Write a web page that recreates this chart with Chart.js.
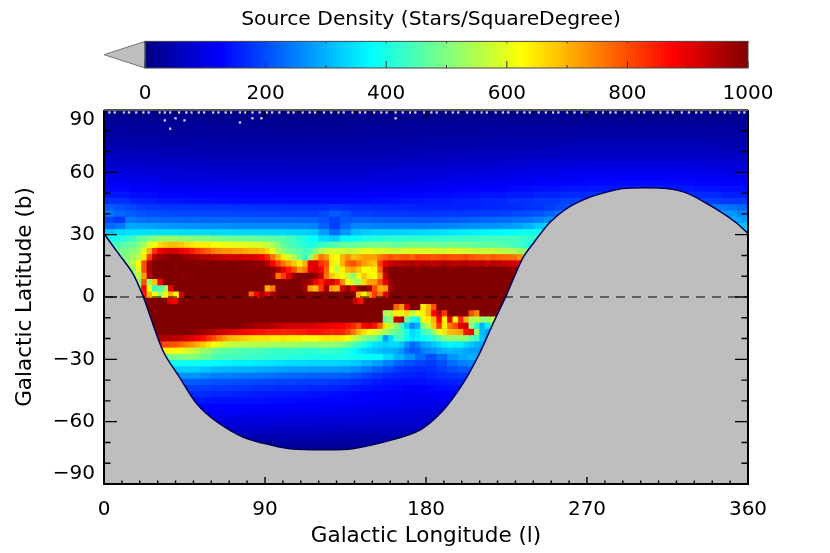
<!DOCTYPE html>
<html>
<head>
<meta charset="utf-8">
<script src="https://cdn.jsdelivr.net/npm/chart.js@4"></script>
<style>
html, body { margin: 0; padding: 0; background: #fff; overflow: hidden; }
#wrap { position: relative; width: 830px; height: 553px; }
canvas { position: absolute; top: 0; }
#sky { left: 0; }
#bar { left: 32px; }
</style>
</head>
<body>
<div id="wrap">
<canvas id="sky" width="830" height="553"></canvas>
<canvas id="bar" width="798" height="110"></canvas>
</div>
<script>
// density rows, top to bottom, 3 degrees of latitude each
// b = 88.5 ... 46.5, 15 deg of longitude per value
var northRows = [
[14,13,12,12,12,11,11,10,11,12,12,12,13,13,14,14,14,15,15,15,15,15,15,14],
[20,19,18,18,17,16,16,15,16,17,17,18,18,19,20,20,20,21,21,21,22,22,21,20],
[26,25,24,24,22,22,21,21,21,22,23,24,24,25,26,26,27,28,28,28,28,28,28,27],
[32,31,30,29,28,28,27,26,27,28,29,30,30,31,32,33,34,35,35,36,36,36,35,34],
[39,38,36,35,34,34,33,32,33,34,35,36,37,38,39,40,42,43,44,44,44,44,43,41],
[47,45,43,42,41,40,39,38,39,40,42,43,44,45,46,48,50,52,53,53,54,53,52,49],
[55,53,51,49,48,47,46,45,46,47,49,50,52,53,55,57,60,62,63,64,64,63,62,58],
[65,62,59,57,56,55,54,53,54,55,57,59,61,62,65,68,71,74,75,76,76,75,73,69],
[76,72,69,67,65,64,63,62,63,64,66,69,71,73,76,79,83,86,88,89,89,88,85,81],
[88,83,79,77,75,74,73,71,72,74,76,79,82,84,88,92,96,100,102,103,103,102,99,94],
[101,95,90,87,85,84,83,81,82,84,87,90,93,96,100,105,110,114,116,118,118,116,113,107],
[114,107,101,98,96,95,94,92,93,95,98,101,105,108,113,119,124,129,131,133,133,131,127,121],
[128,120,114,110,108,106,105,104,105,107,110,114,118,122,127,134,140,145,148,150,150,148,143,136],
[146,136,128,124,122,120,118,116,118,120,124,128,132,137,143,150,158,165,170,172,172,170,165,155],
[170,155,145,140,137,135,134,132,133,135,139,143,148,154,162,172,180,190,195,198,198,195,188,178]
];
// b = 43.5 ... 28.5, 6 deg of longitude per value
var midNorthRows = [
[215,205,195,185,180,178,176,175,175,175,175,174,172,172,170,170,170,168,168,166,168,175,170,165,165,162,160,160,158,155,155,155,155,155,158,160,160,165,168,170,175,185,195,205,210,215,220,225,230,230,235,235,240,240,240,245,245,240,235,225],
[245,225,215,205,200,198,196,195,195,195,195,194,192,192,190,190,190,188,188,186,195,215,200,185,185,182,180,180,178,175,175,178,180,180,182,185,185,190,195,200,205,220,235,245,250,255,260,265,270,270,275,275,280,280,280,285,285,280,270,255],
[190,180,245,235,230,228,226,225,225,225,225,224,222,222,220,220,220,218,218,216,205,190,210,215,215,212,210,210,208,205,205,208,210,215,220,222,225,228,235,240,250,265,280,290,295,300,305,310,310,310,315,315,320,320,320,325,320,315,300,280],
[225,240,290,285,280,275,272,270,268,265,265,265,262,262,260,260,260,258,258,256,220,185,225,255,255,252,250,250,250,248,250,252,255,260,265,268,270,275,285,300,320,340,350,360,365,370,370,370,370,370,370,370,370,370,370,370,370,360,345,320],
[320,340,345,345,345,345,345,340,340,340,338,338,336,335,335,335,335,332,330,325,280,230,270,315,325,330,330,330,335,338,340,345,350,355,360,365,370,375,380,390,390,390,390,390,390,390,390,390,390,390,390,390,390,390,390,390,390,390,380,350],
[380,400,430,470,500,520,520,510,505,500,490,480,478,475,470,465,460,440,410,380,340,330,370,385,400,410,415,420,420,420,420,425,430,430,435,440,440,440,440,425,420,420,420,420,420,420,420,420,420,420,420,420,420,420,420,420,420,420,420,420]
];
// b = 25.5 ... -25.5, 3 deg of longitude per value, l = 0 ... 240
var bandRows = [
[430,440,450,460,470,480,500,540,590,620,660,680,690,690,680,660,650,640,640,640,620,620,610,610,600,600,600,590,590,580,570,540,500,470,450,440,430,410,400,420,430,440,450,460,470,470,470,480,480,490,490,490,490,480,480,480,490,490,490,490,490,490,480,480,490,490,480,480,480,470,470,470,470,460,460,450,440,430,420,400],
[430,450,470,490,500,510,530,600,700,830,890,910,920,910,890,870,850,820,800,780,750,740,730,730,720,720,710,700,700,690,660,600,540,510,480,470,460,440,450,500,540,570,580,570,580,560,570,580,600,600,590,590,590,580,570,580,590,590,590,590,590,590,580,580,590,590,580,580,570,570,570,570,570,560,560,550,540,530,510,480],
[430,450,470,490,510,530,560,640,820,950,980,990,1000,1000,990,980,970,960,950,950,940,930,930,920,920,920,910,910,900,880,840,760,700,640,590,540,490,430,520,680,760,720,640,620,700,740,690,700,720,720,720,760,780,800,780,790,800,780,810,800,800,790,800,810,800,790,800,810,790,780,780,770,790,780,770,770,760,740,700,620],
[430,450,470,490,520,560,620,800,960,1000,1000,1000,1000,1000,1000,1000,1000,990,990,1000,1000,1000,990,1000,1000,990,1000,1000,990,980,960,880,820,760,720,680,640,700,900,900,830,800,640,600,700,780,800,760,720,700,680,820,900,930,950,940,950,960,940,950,950,940,950,960,950,940,950,960,940,940,950,930,950,940,930,930,920,900,850,760],
[430,450,470,490,500,520,600,800,960,1000,1000,1000,1000,990,1000,1000,1000,1000,1000,1000,1000,1000,1000,1000,1000,1000,1000,990,1000,1000,1000,990,950,900,850,800,720,760,900,920,880,780,620,560,640,700,720,680,620,620,640,780,960,1000,1000,990,1000,1000,980,1000,1000,1000,1000,1000,990,1000,1000,1000,1000,1000,1000,1000,1000,1000,1000,990,980,970,930,860],
[400,420,440,460,480,500,560,720,950,1000,1000,1000,1000,1000,990,1000,1000,1000,1000,1000,1000,1000,1000,1000,1000,1000,1000,1000,1000,1000,1000,980,760,820,900,980,1000,1000,1000,980,920,760,680,640,620,560,520,600,680,640,620,720,930,1000,1000,1000,1000,1000,1000,1000,1000,1000,1000,1000,1000,1000,1000,1000,1000,1000,1000,1000,1000,1000,1000,1000,1000,1000,1000,980],
[400,420,440,460,480,500,520,800,520,680,880,1000,1000,1000,1000,1000,1000,1000,1000,1000,1000,1000,1000,1000,1000,1000,1000,1000,1000,1000,1000,1000,1000,990,1000,1000,1000,980,960,880,840,900,920,860,740,620,560,540,660,720,720,800,900,980,1000,1000,1000,1000,1000,1000,1000,1000,1000,1000,1000,1000,1000,1000,1000,1000,1000,1000,1000,1000,1000,1000,1000,1000,1000,1000],
[400,420,440,460,480,500,520,880,620,430,460,520,900,1000,1000,1000,1000,1000,1000,1000,1000,1000,1000,1000,1000,1000,1000,1000,1000,990,700,760,1000,1000,1000,1000,1000,960,720,680,820,960,720,700,920,980,900,980,1000,960,800,700,720,960,1000,1000,1000,1000,1000,1000,1000,1000,1000,1000,1000,1000,1000,1000,1000,1000,1000,1000,1000,1000,1000,1000,1000,1000,1000,1000],
[400,420,440,460,480,500,520,860,700,620,520,640,700,620,920,1000,1000,1000,1000,1000,1000,1000,1000,1000,1000,1000,1000,780,880,960,900,960,1000,1000,1000,1000,1000,1000,990,1000,1000,1000,1000,1000,1000,1000,1000,700,640,720,820,760,900,1000,1000,1000,1000,1000,1000,1000,1000,1000,1000,1000,1000,1000,1000,1000,1000,1000,1000,1000,1000,1000,1000,1000,1000,1000,1000,1000],
[400,420,440,460,480,500,520,950,1000,1000,1000,1000,900,880,1000,1000,1000,1000,1000,1000,1000,1000,1000,1000,1000,1000,1000,1000,1000,1000,1000,1000,1000,1000,1000,1000,1000,1000,1000,1000,1000,1000,1000,1000,1000,1000,1000,920,860,1000,1000,1000,1000,1000,1000,1000,1000,1000,1000,1000,1000,1000,1000,1000,1000,1000,1000,1000,1000,1000,1000,1000,1000,1000,1000,1000,1000,1000,1000,1000,1000],
[900,900,900,900,900,900,900,950,1000,1000,1000,1000,1000,1000,1000,1000,1000,1000,1000,1000,1000,1000,1000,1000,1000,1000,1000,1000,1000,1000,1000,1000,1000,1000,1000,1000,1000,1000,1000,1000,1000,1000,1000,1000,1000,1000,1000,1000,1000,1000,1000,1000,1000,1000,780,720,900,1000,1000,640,700,800,1000,1000,1000,1000,1000,1000,1000,1000,1000,1000,1000,1000,1000,1000,1000,1000,1000,1000],
[900,900,900,900,900,900,900,950,1000,1000,1000,1000,1000,1000,1000,1000,1000,1000,1000,1000,1000,1000,1000,1000,1000,1000,1000,1000,1000,1000,1000,1000,1000,1000,1000,1000,1000,1000,1000,1000,1000,1000,1000,1000,1000,1000,1000,1000,1000,1000,1000,1000,540,560,640,600,660,560,620,640,700,880,940,820,1000,1000,1000,1000,800,740,1000,1000,1000,1000,1000,1000,1000,1000,1000,1000],
[900,900,900,900,900,900,900,950,1000,1000,1000,1000,1000,1000,1000,1000,1000,1000,1000,1000,1000,1000,1000,1000,1000,1000,1000,1000,1000,1000,1000,1000,1000,1000,1000,1000,1000,1000,1000,1000,1000,1000,1000,1000,1000,1000,1000,1000,1000,1000,1000,1000,470,520,920,940,480,400,380,620,640,700,880,640,900,620,840,700,540,560,520,520,560,660,820,900,900,900,900,900],
[900,900,900,900,900,900,900,950,1000,1000,1000,1000,1000,1000,1000,1000,1000,1000,1000,1000,1000,1000,1000,1000,1000,990,980,980,960,960,960,950,940,930,930,920,920,920,920,910,900,890,890,880,880,860,840,800,880,900,860,780,640,560,520,440,330,260,300,500,560,680,820,640,760,800,900,920,500,420,300,360,470,640,820,900,900,900,900,900],
[900,900,900,900,900,900,900,950,1000,1000,1000,1000,1000,1000,1000,1000,990,980,970,960,950,930,920,910,900,890,880,870,860,860,850,850,850,840,840,840,850,850,860,860,860,850,840,850,840,810,760,700,660,620,600,570,540,500,470,450,400,340,360,430,460,520,600,650,690,700,720,860,880,520,310,290,400,500,620,800,900,900,900,900],
[900,900,900,900,900,900,900,900,900,960,950,950,950,940,930,920,900,880,860,830,800,760,730,700,690,680,670,660,650,650,650,640,640,650,640,640,640,630,630,620,640,650,640,650,640,620,580,540,510,490,480,420,280,340,430,440,380,350,360,380,400,420,460,500,520,510,520,510,460,430,320,280,300,380,500,640,900,900,900,900],
[700,700,700,700,700,700,700,700,700,880,840,800,800,790,770,750,730,700,680,650,620,600,580,570,560,560,560,550,550,550,550,540,540,540,540,530,530,520,520,520,520,520,520,510,500,480,450,430,400,370,350,340,330,340,340,320,270,230,250,290,300,320,340,360,370,360,360,340,320,300,290,290,300,400,500,600,600,600,600,600],
[600,600,600,600,600,600,600,600,600,680,660,640,630,620,610,590,570,550,530,510,490,470,470,460,460,450,450,450,450,440,440,430,430,430,430,430,430,420,420,420,430,430,420,420,410,400,380,360,340,330,320,310,300,300,290,270,230,210,220,250,260,270,290,300,310,300,300,290,280,280,270,270,280,300,300,300,300,300,300,300]
];
// b = -28.5 ... -46.5, 6 deg of longitude per value, l = 0 ... 240
var midSouthRows = [
[450,450,450,450,450,460,490,500,500,480,450,440,440,430,430,420,420,410,410,400,400,400,400,390,380,370,340,300,270,230,200,230,270,290,300,300,280,280,280,280],
[380,380,380,380,380,380,390,390,390,380,370,365,360,360,355,350,345,340,340,335,335,335,330,320,300,280,250,220,200,190,180,200,230,250,260,260,250,250,250,250],
[310,310,310,310,310,310,320,330,330,320,310,305,300,300,295,290,285,280,280,275,275,275,270,260,240,220,200,180,170,165,170,185,200,210,215,215,210,210,210,210],
[250,250,250,250,250,250,260,270,270,260,250,250,245,240,240,235,230,225,225,220,220,220,215,205,190,175,165,160,155,150,160,170,175,180,185,180,180,180,180,180],
[210,210,210,210,210,210,215,215,215,210,205,205,200,200,195,195,190,190,185,185,185,180,175,170,160,150,145,140,140,140,145,150,155,160,160,160,160,160,160,160],
[185,185,185,185,185,185,185,185,185,185,180,180,175,175,170,170,165,165,165,160,160,155,150,145,140,135,130,130,125,125,130,135,140,140,140,140,140,140,140,140],
[165,165,165,165,165,165,165,165,165,165,160,160,155,155,150,150,148,146,144,142,140,135,132,128,124,120,118,116,115,115,118,122,125,125,125,125,125,125,125,125]
];
// b = -49.5 ... -73.5, 15 deg of longitude per value, l = 0 ... 240
var southRows = [
[145,145,145,145,142,140,136,132,128,122,118,110,106,105,108,110],
[128,128,128,128,126,124,120,118,114,110,106,100,95,95,96,96],
[114,114,114,114,112,110,108,105,102,98,94,90,86,85,85,85],
[100,100,100,100,98,96,95,92,90,86,83,80,78,76,76,76],
[86,86,86,86,84,82,80,78,76,73,71,70,68,68,68,68],
[70,70,70,70,68,66,64,62,60,58,58,58,58,58,58,58],
[52,52,52,52,50,48,46,44,44,44,44,44,44,44,44,44],
[34,34,34,34,32,30,28,27,27,28,28,28,28,28,28,28],
[18,18,18,18,17,16,16,15,15,16,16,16,16,16,16,16]
];
// edge of the survey footprint, everything under it has no data
var edgeLon = [0,8,16,22,33,42.5,52,63,78,94.5,104,122,139,160,176.6,189.5,200.7,210,217.5,225,234,240,249.3,258.8,270,281,290,302,314.7,325.8,337,346,353.8,360];
var edgeLat = [30.5,21,11.5,0,-26,-39,-51.5,-60,-67.5,-71.5,-73,-73.5,-73,-69,-64,-54.6,-41.6,-27,-12.7,1,18.6,25.9,36,42.7,47.5,50.5,52.2,52.6,52.2,50,45,40.3,35.5,30.5];
// empty bins along the top rows and the few just under them
var topSpeckLon = [3,6,11,14,18,22,25,31,34,37,42,46,49,53,56,61,64,68,71,76,79,83,87,91,94,98,103,106,111,115,118,123,127,131,134,139,143,146,151,155,158,163,167,171,174,179,183,186,191,195,198,203,207,211,214,219,223,226,231,235,238,243,247,251,254,259,263,267,270,275,279,283,286,291,295,299,302,307,311,315,318,323,327,331,334,339,343,347,350,355,358];
var topSpeckLat = 88.8;
var lowSpeckLon = [34,40,45,37,83,88,76,163];
var lowSpeckLat = [85,86,85,81,86,86,84,86];
var zeroLon = [0,360];
var zeroLat = [0,0];

var lonTicksMajor = 90, latTicksMajor = 30;
var barTicks = [0,200,400,600,800,1000];
var jetStops = [[0,'#000080'],[0.125,'#0000ff'],[0.375,'#00ffff'],[0.625,'#ffff00'],[0.875,'#ff0000'],[1,'#800000']];

function densityColor(v) {
    var t = Math.min(1, Math.max(0, v / 1000));
    function ch(x) { return Math.round(255 * Math.min(1, Math.max(0, x))); }
    return 'rgb(' + ch(Math.min(4 * t - 1.5, 4.5 - 4 * t)) + ',' + ch(Math.min(4 * t - 0.5, 3.5 - 4 * t)) + ',' + ch(Math.min(4 * t + 0.5, 2.5 - 4 * t)) + ')';
}

var font = 'DejaVu Sans';
var datasets = [];
var lat = 88.5;
[[northRows, 360], [midNorthRows, 360], [bandRows, 240], [midSouthRows, 240], [southRows, 240]].forEach(function (group) {
    group[0].forEach(function (row) {
        var w = group[1] / row.length;
        datasets.push({
            type: 'bar',
            indexAxis: 'y',
            order: 5,
            grouped: false,
            barThickness: 7,
            data: row.map(function (v, i) { return { y: lat, x: [i * w, (i + 1) * w + 0.4] }; }),
            backgroundColor: row.map(densityColor)
        });
        lat -= 3;
    });
});
datasets.push({
    type: 'scatter', order: 3,
    data: topSpeckLon.map(function (l) { return { x: l, y: topSpeckLat }; }).concat(lowSpeckLon.map(function (l, i) { return { x: l, y: lowSpeckLat[i] }; })),
    pointStyle: 'rect', pointRadius: 1.6, pointBorderWidth: 0, pointBackgroundColor: '#d8d8f0'
});
datasets.push({
    type: 'line', order: 2,
    data: edgeLon.map(function (l, i) { return { x: l, y: edgeLat[i] }; }),
    borderColor: '#00005a', borderWidth: 1.5, pointRadius: 0, fill: 'start', backgroundColor: '#bebebe', tension: 0.3
});
datasets.push({
    type: 'line', order: 1,
    data: zeroLon.map(function (l, i) { return { x: l, y: zeroLat[i] }; }),
    borderColor: '#000', borderWidth: 1.2, borderDash: [9, 7], pointRadius: 0, fill: false
});

// inward ticks and the frame, IDL style
var framePlugin = {
    id: 'frame',
    afterDatasetsDraw: function (chart) {
        var c = chart.ctx, a = chart.chartArea;
        c.save();
        c.strokeStyle = '#000';
        c.lineWidth = 1.4;
        chart.scales.x.ticks.forEach(function (t) {
            var p = chart.scales.x.getPixelForValue(t.value);
            var len = t.value % lonTicksMajor === 0 ? 7 : 3.5;
            c.beginPath();
            c.moveTo(p, a.bottom); c.lineTo(p, a.bottom - len);
            c.moveTo(p, a.top); c.lineTo(p, a.top + len);
            c.stroke();
        });
        chart.scales.y.ticks.forEach(function (t) {
            var p = chart.scales.y.getPixelForValue(t.value);
            var len = t.value % latTicksMajor === 0 ? 13 : 6.5;
            c.beginPath();
            c.moveTo(a.left, p); c.lineTo(a.left + len, p);
            c.moveTo(a.right, p); c.lineTo(a.right - len, p);
            c.stroke();
        });
        c.lineWidth = 2;
        c.beginPath();
        c.moveTo(a.left, a.top); c.lineTo(a.left, a.bottom); c.lineTo(a.right, a.bottom); c.lineTo(a.right, a.top);
        c.stroke();
        c.strokeStyle = '#555';
        c.beginPath();
        c.moveTo(a.left, a.top); c.lineTo(a.right, a.top);
        c.stroke();
        c.restore();
    }
};

new Chart(document.getElementById('sky'), {
    data: { datasets: datasets },
    options: {
        responsive: false,
        animation: false,
        events: [],
        devicePixelRatio: 1,
        layout: { padding: { left: 0, right: 82, top: 110, bottom: 0 } },
        plugins: { legend: { display: false }, tooltip: { enabled: false } },
        scales: {
            x: {
                type: 'linear', min: 0, max: 360, offset: false,
                grid: { display: false }, border: { display: false },
                afterFit: function (s) { s.height = 69; },
                ticks: {
                    stepSize: 10, autoSkip: false, maxRotation: 0, padding: 6, color: '#000',
                    font: { family: font, size: 20 },
                    callback: function (v) { return v % lonTicksMajor === 0 ? String(v) : ''; }
                },
                title: { display: true, text: 'Galactic Longitude (l)', color: '#000', font: { family: font, size: 21.5 }, padding: { top: 0, bottom: 4 } }
            },
            y: {
                type: 'linear', min: -90, max: 90, offset: false,
                grid: { display: false }, border: { display: false },
                afterFit: function (s) { s.width = 104; },
                ticks: {
                    stepSize: 10, autoSkip: false, padding: 1, color: '#000',
                    font: { family: font, size: 20, lineHeight: 1 },
                    callback: function (v) {
                        if (v % latTicksMajor !== 0) return '';
                        var s = String(Math.abs(v));
                        if (v === 90) return ['', s];
                        if (v === -90) return ['\u2212' + s, ''];
                        return v < 0 ? '\u2212' + s : s;
                    }
                },
                title: { display: true, text: 'Galactic Latitude (b)', color: '#000', font: { family: font, size: 21.5 }, padding: { top: 13, bottom: 0 } }
            }
        }
    },
    plugins: [framePlugin]
});

// colour bar with the under-range arrow
var barPlugin = {
    id: 'barDecor',
    afterDatasetsDraw: function (chart) {
        var c = chart.ctx, a = chart.chartArea, x = chart.scales.x;
        c.save();
        c.beginPath();
        c.moveTo(x.getPixelForValue(-68), (a.top + a.bottom) / 2);
        c.lineTo(a.left, a.top); c.lineTo(a.left, a.bottom); c.closePath();
        c.fillStyle = '#bebebe'; c.fill();
        c.strokeStyle = '#777'; c.lineWidth = 1; c.stroke();
        c.strokeStyle = '#333';
        x.ticks.forEach(function (t) {
            var p = x.getPixelForValue(t.value);
            var len = barTicks.indexOf(t.value) >= 0 ? 7 : 3;
            c.beginPath();
            c.moveTo(p, a.bottom); c.lineTo(p, a.bottom - len);
            c.moveTo(p, a.top); c.lineTo(p, a.top + 2);
            c.stroke();
        });
        c.strokeStyle = '#444';
        c.strokeRect(a.left, a.top, a.right - a.left, a.bottom - a.top);
        c.restore();
    }
};

new Chart(document.getElementById('bar'), {
    type: 'bar',
    data: {
        labels: ['density'],
        datasets: [{
            data: [[0, 1000]],
            barPercentage: 1, categoryPercentage: 1,
            backgroundColor: function (ctx) {
                var a = ctx.chart.chartArea;
                if (!a) return '#000';
                var g = ctx.chart.ctx.createLinearGradient(a.left, 0, a.right, 0);
                jetStops.forEach(function (s) { g.addColorStop(s[0], s[1]); });
                return g;
            }
        }]
    },
    options: {
        indexAxis: 'y',
        responsive: false,
        animation: false,
        events: [],
        devicePixelRatio: 1,
        plugins: {
            legend: { display: false }, tooltip: { enabled: false },
            title: { display: true, text: 'Source Density (Stars/SquareDegree)', color: '#000', font: { family: font, size: 20.3, weight: 'normal' }, padding: { top: 8, bottom: 9 } }
        },
        scales: {
            x: {
                type: 'linear', min: 0, max: 1000,
                grid: { display: false }, border: { display: false },
                afterFit: function (s) { s.height = 42; },
                ticks: {
                    stepSize: 100, autoSkip: false, maxRotation: 0, padding: 6, color: '#000',
                    font: { family: font, size: 20 },
                    callback: function (v) { return barTicks.indexOf(v) >= 0 ? String(v) : ''; }
                }
            },
            // empty side axes keep the bar inside the canvas and the title on the plot centre
            y: {
                grid: { display: false }, border: { display: false }, ticks: { display: false },
                afterFit: function (s) { s.width = 113; }
            },
            yRight: {
                position: 'right', type: 'linear',
                grid: { display: false }, border: { display: false }, ticks: { display: false },
                afterFit: function (s) { s.width = 82; }
            }
        }
    },
    plugins: [barPlugin]
});
</script>
</body>
</html>
